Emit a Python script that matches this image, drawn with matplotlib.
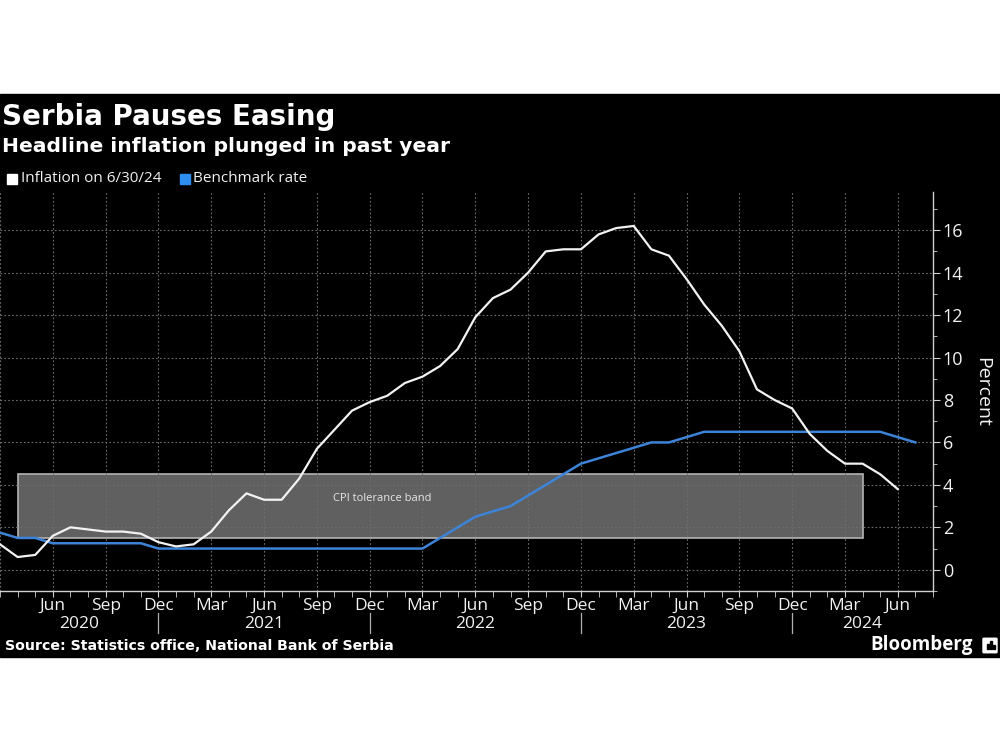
import matplotlib

matplotlib.use("Agg")
import matplotlib.pyplot as plt
import numpy as np
import pandas as pd
from matplotlib.patches import FancyBboxPatch, Rectangle

# Monthly series starting March 2020
START = "2020-03"
inflation = [
    1.2, 0.6, 0.7, 1.6, 2.0, 1.9, 1.8, 1.8, 1.7, 1.3,            # Mar-Dec 2020
    1.1, 1.2, 1.8, 2.8, 3.6, 3.3, 3.3, 4.3, 5.7, 6.6, 7.5, 7.9,  # 2021
    8.2, 8.8, 9.1, 9.6, 10.4, 11.9, 12.8, 13.2, 14.0, 15.0, 15.1, 15.1,  # 2022
    15.8, 16.1, 16.2, 15.1, 14.8, 13.7, 12.5, 11.5, 10.3, 8.5, 8.0, 7.6,  # 2023
    6.4, 5.6, 5.0, 5.0, 4.5, 3.8,                                  # Jan-Jun 2024
]
benchmark = [
    1.75, 1.5, 1.5, 1.25, 1.25, 1.25, 1.25, 1.25, 1.25, 1.0,
    1.0, 1.0, 1.0, 1.0, 1.0, 1.0, 1.0, 1.0, 1.0, 1.0, 1.0, 1.0,
    1.0, 1.0, 1.0, 1.5, 2.0, 2.5, 2.75, 3.0, 3.5, 4.0, 4.5, 5.0,
    5.25, 5.5, 5.75, 6.0, 6.0, 6.25, 6.5, 6.5, 6.5, 6.5, 6.5, 6.5,
    6.5, 6.5, 6.5, 6.5, 6.5, 6.25, 6.0,
]
band_low, band_high = 1.5, 4.5
band_start, band_end = "2020-04", "2024-04"
year_labels = ["2020", "2021", "2022", "2023", "2024"]

BG = "black"
WHITE = "#f2f2f2"
BLUE = "#3d84d8"
GRID = "#6e6e6e"
REG = "Open Sans"

periods = pd.period_range(START, periods=len(benchmark) + 1, freq="M")
x_inf = np.arange(len(inflation))
x_rate = np.arange(len(benchmark))
xmax = len(benchmark)  # one month of padding after the last point

fig = plt.figure(figsize=(10, 7.5), dpi=100, facecolor="white")
# black panel behind everything
fig.patches.append(Rectangle((0, 1 - 657 / 750), 1, (657 - 94) / 750,
                             transform=fig.transFigure, color=BG, zorder=-10))

ax = fig.add_axes([0.0, 1 - 591 / 750, 0.933, (591 - 192) / 750])
ax.set_facecolor(BG)
ax.set_xlim(0, xmax)
ax.set_ylim(-1, 17.8)

# tolerance band
i0 = periods.get_loc(pd.Period(band_start, "M"))
i1 = periods.get_loc(pd.Period(band_end, "M"))
ax.add_patch(Rectangle((i0, band_low), i1 - i0, band_high - band_low,
                       facecolor="#606060", edgecolor="#b4b4b4", linewidth=1.2, zorder=1))
ax.text(21.7, 3.35, "CPI tolerance band", color="#e6e6e6", fontsize=8,
        family=REG, ha="center", va="center", zorder=3)

ax.plot(x_rate, benchmark, color=BLUE, linewidth=1.8, zorder=4, solid_joinstyle="round")
ax.plot(x_inf, inflation, color=WHITE, linewidth=1.6, zorder=5, solid_joinstyle="round")

# grid
quarter_idx = [i for i, p in enumerate(periods) if p.month in (3, 6, 9, 12) and i < xmax]
for q in quarter_idx:
    ax.axvline(q, color=GRID, linewidth=0.8, linestyle=(0, (1.5, 2)), zorder=2)
for yv in range(0, 17, 2):
    ax.axhline(yv, color=GRID, linewidth=0.8, linestyle=(0, (1.5, 2)), zorder=2)

# spines
for s in ["top", "left"]:
    ax.spines[s].set_visible(False)
for s in ["bottom", "right"]:
    ax.spines[s].set_color("#d0d0d0")
    ax.spines[s].set_linewidth(1.0)

# y axis on the right
ax.yaxis.tick_right()
ax.yaxis.set_label_position("right")
ax.set_yticks(range(0, 17, 2))
ax.set_yticks(range(-1, 18), minor=True)
ax.tick_params(axis="y", which="major", length=5, color="#d0d0d0", labelcolor=WHITE,
               labelsize=13, pad=2)
ax.tick_params(axis="y", which="minor", length=3, color="#d0d0d0")
for lab in ax.get_yticklabels():
    lab.set_family(REG)
ax.set_ylabel("Percent", color=WHITE, fontsize=14, family=REG, rotation=270, labelpad=20)

# x axis: monthly ticks, quarterly labels
xt = [q for q in quarter_idx if q > 0]
ax.set_xticks(xt)
ax.set_xticklabels([periods[q].strftime("%b") for q in xt])
ax.set_xticks(np.arange(0, xmax + 1), minor=True)
ax.tick_params(axis="x", which="both", length=4, color="#d0d0d0", labelcolor=WHITE,
               labelsize=12.5, pad=1)
for lab in ax.get_xticklabels():
    lab.set_family(REG)

# year labels and separators
dec_idx = [i for i, p in enumerate(periods) if p.month == 12 and i < xmax]
bounds = [0] + dec_idx + [xmax]
trans = ax.get_xaxis_transform()
for k, yr in enumerate(year_labels):
    ax.text((bounds[k] + bounds[k + 1]) / 2, -0.083, yr, transform=trans, color=WHITE,
            fontsize=12.5, family=REG, ha="center", va="center", clip_on=False)
for d in dec_idx:
    ax.plot([d, d], [-0.055, -0.105], transform=trans, color="#b0b0b0",
            linewidth=0.9, clip_on=False)

# titles and legend
fig.text(0.002, 1 - 125 / 750, "Serbia Pauses Easing", color="white", fontsize=20,
         fontweight="bold", family="DejaVu Sans", va="baseline")
fig.text(0.002, 1 - 152 / 750, "Headline inflation plunged in past year", color="white",
         fontsize=14.6, fontweight="bold", family="DejaVu Sans", va="baseline")

ly = 1 - 179 / 750
fig.patches.append(Rectangle((7 / 1000, ly - 5 / 750), 10 / 1000, 10 / 750,
                             transform=fig.transFigure, color="white"))
fig.text(21 / 1000, ly, "Inflation on 6/30/24", color=WHITE, fontsize=11, family=REG,
         va="center")
fig.patches.append(Rectangle((180 / 1000, ly - 5 / 750), 10 / 1000, 10 / 750,
                             transform=fig.transFigure, color="#2f8cf0"))
fig.text(193 / 1000, ly, "Benchmark rate", color=WHITE, fontsize=11, family=REG,
         va="center")

fig.text(0.005, 1 - 646 / 750, "Source: Statistics office, National Bank of Serbia",
         color="white", fontsize=10.2, fontweight="bold", family="DejaVu Sans", va="center")
fig.text(0.973, 1 - 645 / 750, "Bloomberg", color="white", fontsize=13.5,
         fontweight="bold", family="Open Sans", ha="right", va="center")
# small logo mark
fig.patches.append(FancyBboxPatch((984 / 1000, 1 - 652 / 750), 12 / 1000, 13 / 750,
                                  boxstyle="round,pad=0.001", transform=fig.transFigure,
                                  color="white"))
for bx, bh in [(987, 5), (990, 8), (993, 4)]:
    fig.patches.append(Rectangle((bx / 1000, 1 - 649 / 750), 2 / 1000, bh / 750,
                                 transform=fig.transFigure, color="black"))

fig.savefig("out.png", dpi=100, facecolor="white")
